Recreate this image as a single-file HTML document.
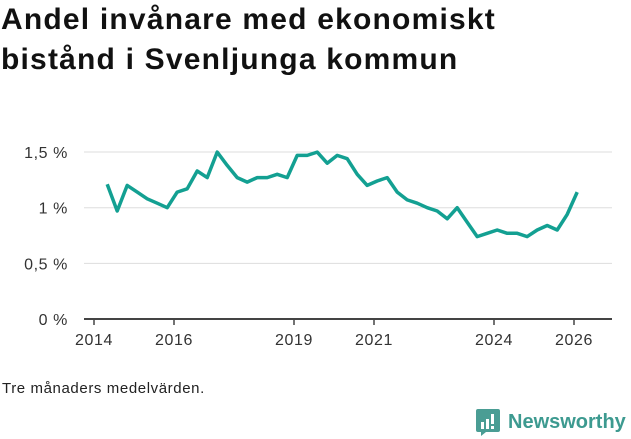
<!DOCTYPE html>
<html><head><meta charset="utf-8"><style>
body{margin:0;width:631px;height:439px;background:#fff;font-family:"Liberation Sans",sans-serif;overflow:hidden;position:relative}
h1{position:absolute;left:1px;top:0px;margin:0;font-size:30px;line-height:40px;font-weight:bold;color:#111;letter-spacing:1.2px}
.note{position:absolute;left:2px;top:380px;font-size:15px;color:#222;letter-spacing:0.6px}
.logo{position:absolute;left:476px;top:408px;display:flex;align-items:center;color:#3d9a90;font-size:20px;font-weight:bold}
</style></head><body>
<h1>Andel invånare med ekonomiskt<br>bistånd i Svenljunga kommun</h1>
<svg id="chart" width="631" height="439" style="position:absolute;left:0;top:0"></svg>
<div class="note">Tre månaders medelvärden.</div>
<div class="logo">
<svg width="24" height="28" viewBox="0 0 24 28"><path d="M2 1h20a2 2 0 0 1 2 2v19a2 2 0 0 1-2 2H10l-5 4v-4H2a2 2 0 0 1-2-2V3a2 2 0 0 1 2-2z" fill="#4a9d94"/><rect x="5" y="14" width="3" height="7" fill="#fff"/><rect x="10" y="11" width="3" height="10" fill="#fff"/><rect x="15" y="6" width="3" height="10" fill="#fff"/><rect x="15" y="18" width="3" height="3" fill="#fff"/></svg>
<span style="margin-left:8px">Newsworthy</span></div>
<script>
const values=[1.21,0.97,1.20,1.14,1.08,1.04,1.00,1.14,1.17,1.33,1.27,1.50,1.38,1.27,1.23,1.27,1.27,1.30,1.27,1.47,1.47,1.50,1.40,1.47,1.44,1.30,1.20,1.24,1.27,1.14,1.07,1.04,1.00,0.97,0.90,1.00,0.87,0.74,0.77,0.80,0.77,0.77,0.74,0.80,0.84,0.80,0.94,1.14];
const startYear=2014.33;
const yTicks=[0,0.5,1,1.5];
const yTickLabels=["0 %","0,5 %","1 %","1,5 %"];
const xTicks=[2014,2016,2019,2021,2024,2026];
const svg=document.getElementById('chart');
const NS='http://www.w3.org/2000/svg';
const x=t=>94+(t-2014)*40;
const y=v=>319-v*111.3;
function el(tag,attrs){const e=document.createElementNS(NS,tag);for(const k in attrs)e.setAttribute(k,attrs[k]);svg.appendChild(e);return e;}
yTicks.forEach((v,i)=>{
 if(v>0){const g=el('line',{x1:84,x2:612,y1:y(v),y2:y(v),stroke:'#ddd','stroke-width':1});
 
 }
 const t=el('text',{x:68,y:y(v)+6,'text-anchor':'end','font-size':16,'letter-spacing':0.6,fill:'#333'});
 t.textContent=yTickLabels[i];
 
 
});
const ax=el('line',{x1:84,x2:612,y1:319,y2:319,stroke:'#444','stroke-width':2});


xTicks.forEach(yr=>{
 const tk=el('line',{x1:x(yr),x2:x(yr),y1:319,y2:325,stroke:'#444','stroke-width':1.5});
 
 
 const t=el('text',{x:x(yr),y:345,'text-anchor':'middle','font-size':16,'letter-spacing':0.6,fill:'#333'});
 t.textContent=yr;
 
 
});
const pts=values.map((v,i)=>x(startYear+i*0.25).toFixed(1)+','+y(v).toFixed(1)).join(' ');
const line=el('polyline',{points:pts,fill:'none',stroke:'#13a092','stroke-width':3.5,'stroke-linejoin':'round'});


</script>
</body></html>
